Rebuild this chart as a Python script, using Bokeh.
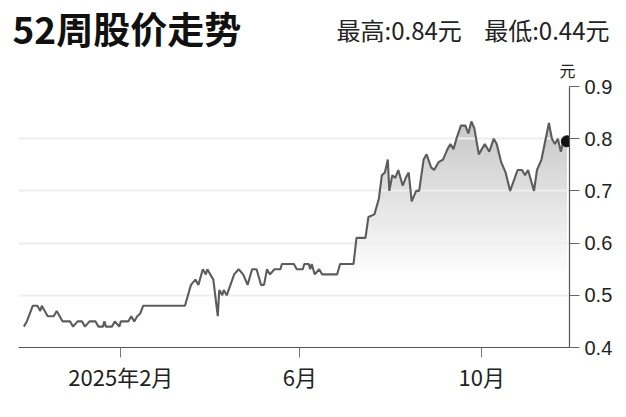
import numpy as np
import pandas as pd
from bokeh.plotting import figure
from bokeh.models import FixedTicker, Label, Range1d, Title
from bokeh.layouts import column
from bokeh.embed import file_html
from bokeh.resources import INLINE

# ---------------- data ----------------
dates = [
    "2024-11-28", "2024-11-30", "2024-12-04", "2024-12-07", "2024-12-09", "2024-12-10", "2024-12-14", "2024-12-18", "2024-12-20", "2024-12-24",
    "2024-12-29", "2024-12-31", "2025-01-03", "2025-01-06", "2025-01-08", "2025-01-11", "2025-01-15", "2025-01-17", "2025-01-20", "2025-01-21",
    "2025-01-22", "2025-01-26", "2025-01-28", "2025-01-31", "2025-02-01", "2025-02-06", "2025-02-08", "2025-02-10", "2025-02-12", "2025-02-14",
    "2025-02-16", "2025-03-16", "2025-03-20", "2025-03-23", "2025-03-25", "2025-03-28", "2025-03-30", "2025-03-31", "2025-04-02", "2025-04-04",
    "2025-04-07", "2025-04-08", "2025-04-10", "2025-04-11", "2025-04-13", "2025-04-18", "2025-04-21", "2025-04-24", "2025-04-27", "2025-04-30",
    "2025-05-03", "2025-05-06", "2025-05-08", "2025-05-10", "2025-05-12", "2025-05-15", "2025-05-19", "2025-05-20", "2025-05-28", "2025-05-30",
    "2025-06-03", "2025-06-04", "2025-06-07", "2025-06-08", "2025-06-09", "2025-06-11", "2025-06-14", "2025-06-16", "2025-06-26", "2025-06-28",
    "2025-07-07", "2025-07-09", "2025-07-15", "2025-07-17", "2025-07-21", "2025-07-24", "2025-07-26", "2025-07-28", "2025-07-30", "2025-07-31",
    "2025-08-02", "2025-08-04", "2025-08-06", "2025-08-09", "2025-08-11", "2025-08-13", "2025-08-15", "2025-08-18", "2025-08-20", "2025-08-23",
    "2025-08-25", "2025-08-28", "2025-08-30", "2025-09-02", "2025-09-05", "2025-09-08", "2025-09-10", "2025-09-12", "2025-09-14", "2025-09-17",
    "2025-09-20", "2025-09-22", "2025-09-24", "2025-09-26", "2025-09-29", "2025-10-01", "2025-10-03", "2025-10-06", "2025-10-09", "2025-10-11",
    "2025-10-14", "2025-10-17", "2025-10-20", "2025-10-25", "2025-10-28", "2025-10-30", "2025-11-01", "2025-11-05", "2025-11-07", "2025-11-10",
    "2025-11-15", "2025-11-17", "2025-11-19", "2025-11-21", "2025-11-23", "2025-11-25", "2025-11-27",
]
prices = [
    0.44, 0.45, 0.48, 0.48, 0.47, 0.48, 0.46, 0.46, 0.47, 0.45,
    0.45, 0.44, 0.45, 0.45, 0.44, 0.45, 0.45, 0.44, 0.44, 0.45,
    0.44, 0.44, 0.45, 0.44, 0.45, 0.45, 0.46, 0.45, 0.46, 0.465,
    0.48, 0.48, 0.52, 0.53, 0.52, 0.55, 0.54, 0.55, 0.54, 0.53,
    0.46, 0.51, 0.50, 0.51, 0.50, 0.54, 0.55, 0.54, 0.52, 0.55,
    0.55, 0.52, 0.52, 0.55, 0.54, 0.55, 0.55, 0.56, 0.56, 0.55,
    0.55, 0.56, 0.56, 0.55, 0.56, 0.54, 0.55, 0.54, 0.54, 0.56,
    0.56, 0.61, 0.61, 0.65, 0.655, 0.685, 0.73, 0.735, 0.76, 0.70,
    0.73, 0.725, 0.74, 0.71, 0.725, 0.735, 0.68, 0.70, 0.70, 0.76,
    0.77, 0.745, 0.74, 0.755, 0.76, 0.78, 0.79, 0.78, 0.80, 0.825,
    0.825, 0.81, 0.833, 0.82, 0.77, 0.78, 0.79, 0.775, 0.80, 0.79,
    0.755, 0.735, 0.70, 0.74, 0.74, 0.73, 0.74, 0.70, 0.74, 0.76,
    0.83, 0.80, 0.79, 0.80, 0.775, 0.80, 0.795,
]
tick_dates = ["2025-02-01", "2025-06-01", "2025-10-01"]
tick_labels = ["2025年2月", "6月", "10月"]
y_ticks = [0.4, 0.5, 0.6, 0.7, 0.8, 0.9]
y_tick_labels = ["0.4", "0.5", "0.6", "0.7", "0.8", "0.9"]
title_text = "52周股价走势"
high_text = "最高:0.84元"
low_text = "最低:0.44元"
unit_text = "元"

W = 620
HEAD_H = 54
MAIN_H = 358

# ---------------- header (title + high/low) ----------------
head = figure(width=W, height=HEAD_H, x_range=Range1d(0, W), y_range=Range1d(HEAD_H, 0),
              x_axis_type=None, y_axis_type=None, output_backend="svg", toolbar_location=None,
              min_border=0)
head.frame_align = False
head.outline_line_color = None
head.xgrid.visible = False
head.ygrid.visible = False
head.add_layout(Label(x=12, y=27, text=title_text,
                      text_font="Noto Sans CJK SC", text_font_size="37px", text_font_style="bold",
                      text_color="#111111", text_align="left", text_baseline="middle"))
head.add_layout(Label(x=336, y=29, text=high_text,
                      text_font="Noto Sans CJK SC", text_font_size="24px",
                      text_color="#222222", text_align="left", text_baseline="middle"))
head.add_layout(Label(x=609, y=29, text=low_text,
                      text_font="Noto Sans CJK SC", text_font_size="24px",
                      text_color="#222222", text_align="right", text_baseline="middle"))

# ---------------- main chart ----------------
DAY = 86400000.0
x = pd.to_datetime(dates)
y = np.array(prices)
ref = pd.Timestamp(tick_dates[0]).value / 1e6
x_start = ref - 68.6 * DAY
x_end = ref + 300.8 * DAY

p = figure(width=W, height=MAIN_H, x_axis_type="datetime", y_axis_location="right",
           x_range=Range1d(x_start, x_end), y_range=Range1d(0.4, 0.9),
           output_backend="svg", toolbar_location=None,
           min_border_left=18, min_border_right=W - 569, min_border_top=29, min_border_bottom=65)
p.frame_align = False
p.outline_line_color = None
p.background_fill_color = "white"
p.border_fill_color = "white"

# gradient-like fill under the line: stacked layers getting darker with height
# (each layer's upper edge is the price line itself, so nothing leaks above it)
levels = np.arange(0.40, 0.845, 0.005)
for a in levels:
    t = float(np.clip((a - 0.53) / (0.84 - 0.53), 0, 1))
    g = int(round(255 - t * 58))
    r = p.varea(x=x, y1=np.minimum(y, a), y2=y, fill_color=(g, g, g), fill_alpha=1.0)
    r.level = "image"

p.line(x, y, line_color="#5c5c5c", line_width=2.1)
p.scatter(x[-1:], y[-1:], size=11, fill_color="#111111", line_color="#111111")

# axes
tick_ms = [pd.Timestamp(d).value / 1e6 for d in tick_dates]
p.xaxis.ticker = FixedTicker(ticks=tick_ms)
p.xaxis.major_label_overrides = {t: l for t, l in zip(tick_ms, tick_labels)}
p.xaxis.axis_line_color = "#555555"
p.xaxis.axis_line_width = 1.2
p.xaxis.major_tick_line_color = "#777777"
p.xaxis.major_tick_out = 10
p.xaxis.major_tick_in = 0
p.xaxis.minor_tick_line_color = None
p.xaxis.major_label_text_font = "Noto Sans CJK SC"
p.xaxis.major_label_text_font_size = "22px"
p.xaxis.major_label_text_color = "#222222"
p.xaxis.major_label_standoff = 2

p.yaxis.ticker = FixedTicker(ticks=y_ticks)
p.yaxis.major_label_overrides = {t: l for t, l in zip(y_ticks, y_tick_labels)}
p.yaxis.axis_line_color = "#555555"
p.yaxis.axis_line_width = 1.2
p.yaxis.major_tick_line_color = "#666666"
p.yaxis.major_tick_out = 10
p.yaxis.major_tick_in = 0
p.yaxis.minor_tick_line_color = None
p.yaxis.major_label_text_font = "Liberation Sans"
p.yaxis.major_label_text_font_size = "20px"
p.yaxis.major_label_text_color = "#222222"
p.yaxis.major_label_standoff = 5

p.xgrid.visible = False
p.ygrid.grid_line_color = "#eeeeee"
p.ygrid.grid_line_width = 2

# unit label above the price axis
p.add_layout(Title(text=unit_text, align="right", offset=-6, standoff=6, vertical_align="top",
                   text_font="Noto Sans CJK SC", text_font_size="16px",
                   text_font_style="normal", text_color="#222222"), "above")

layout = column(head, p, spacing=0)
open("out.html", "w").write(file_html(layout, INLINE))
